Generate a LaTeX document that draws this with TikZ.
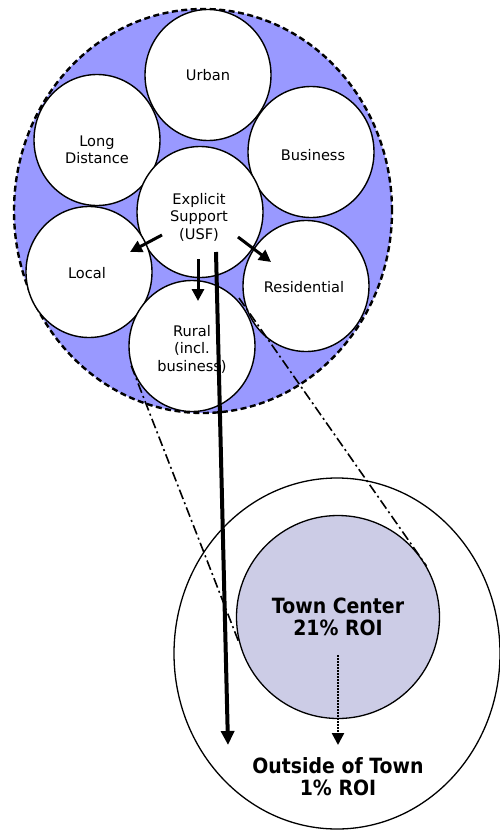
\documentclass[tikz,border=0pt]{standalone}
\usepackage{fontspec}
\setmainfont{DejaVu Sans}
\newfontfamily\headfont[FakeStretch=0.9]{DejaVu Sans}
\usetikzlibrary{shapes.geometric,arrows.meta}
\definecolor{netblue}{RGB}{153,153,255}
\definecolor{townfill}{RGB}{204,204,230}
\tikzset{
  bubble/.style={ellipse,draw=black,line width=1.4pt,fill=white,inner sep=0pt,
                 minimum width=126pt,minimum height=131pt},
  lbl/.style={align=center,inner sep=0pt,font=\fontsize{14.6}{17.5}\selectfont},
  biglbl/.style={align=center,inner sep=0pt,font=\headfont\bfseries\fontsize{21}{22}\selectfont},
  flow/.style={line width=3pt,-{Triangle[length=12pt,width=12pt]}},
  zoomline/.style={line width=1.6pt,dash pattern=on 10pt off 3.5pt on 2pt off 3.5pt},
}
\begin{document}
\begin{tikzpicture}[x=1pt,y=-1pt]
\useasboundingbox (0,0) rectangle (500,830);

% network of service segments
\node[ellipse,draw=black,fill=netblue,line width=2.4pt,dash pattern=on 6pt off 3.5pt,
      inner sep=0pt,minimum width=378pt,minimum height=404pt] (net) at (203,211) {};
\node[bubble] (urban) at (208,75) {};
\node[bubble] (ld)    at (97,140) {};
\node[bubble] (bus)   at (311,152) {};
\node[bubble] (usf)   at (200,212) {};
\node[bubble] (local) at (89,272) {};
\node[bubble] (res)   at (306,286) {};
\node[bubble] (rural) at (192,346) {};

\node[lbl] (urban-t) at (208,75)  {Urban};
\node[lbl] (ld-t)    at (97,150)  {Long\\Distance};
\node[lbl] (bus-t)   at (313,155) {Business};
\node[lbl] (usf-t)   at (199,217) {Explicit\\Support\\(USF)};
\node[lbl] (local-t) at (87,273)  {Local};
\node[lbl] (res-t)   at (304,287) {Residential};
\node[lbl] (rural-t) at (192,349) {Rural\\(incl.\\business)};

% support flows out of the USF
\coordinate (usf-l) at (162,235);
\coordinate (usf-r) at (238,237);
\coordinate (usf-d) at (198,259);
\coordinate (local-in) at (130,252);
\coordinate (res-in)   at (271,262);
\coordinate (rural-in) at (198,301);
\draw[flow] (usf-l) -- (local-in);
\draw[flow] (usf-r) -- (res-in);
\draw[flow] (usf-d) -- (rural-in);

% the town
\node[ellipse,draw=black,line width=1.3pt,fill=white,inner sep=0pt,
      minimum width=326pt,minimum height=351pt] (outer) at (337,653.5) {};
\node[circle,draw=black,line width=1.3pt,fill=townfill,inner sep=0pt,
      minimum size=203pt] (town) at (338,617) {};

% zoom from the rural segment to the town
\coordinate (res-edge) at (239,298);
\draw[zoomline] (rural.198) -- (town.195);
\draw[zoomline] (res-edge) -- (town.30);

% USF money flowing outside of town
\coordinate (usf-s) at (216,252);
\coordinate (out-a) at (228,745);
\draw[line width=4pt,-{Triangle[length=14pt,width=13pt]}] (usf-s) -- (out-a);

\node[biglbl] (town-t) at (338,617) {Town Center\\21\% ROI};
\node[biglbl] (out-t)  at (338,777) {Outside of Town\\1\% ROI};

\coordinate (town-s) at (338,655);
\coordinate (out-b)  at (338,745);
\draw[line width=2.5pt,dash pattern=on 1.5pt off 1.5pt,-{Triangle[length=12pt,width=12pt]}] (town-s) -- (out-b);
\end{tikzpicture}
\end{document}
